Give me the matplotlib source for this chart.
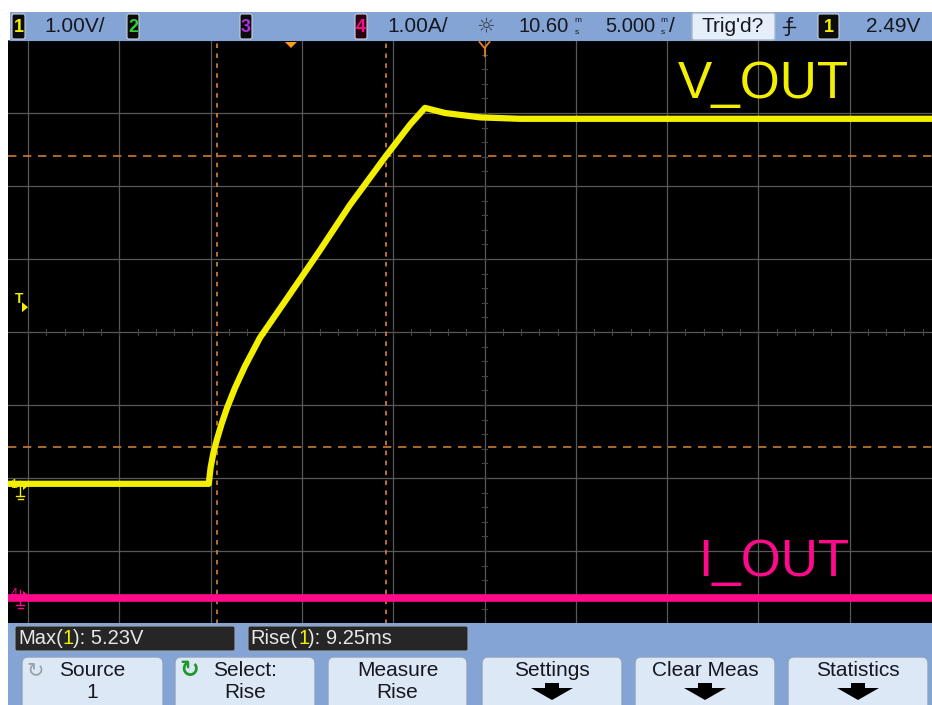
import matplotlib
matplotlib.use('Agg')
import matplotlib.pyplot as plt
from matplotlib.patches import FancyBboxPatch, Rectangle, Polygon

W, H = 932, 705

# ---------------- data ----------------
vout_t_ms = [-15.5, -4.50, -4.40, -4.25, -4.05, -3.80, -3.50, -3.07, -2.52, -1.70, -0.05,
             1.59, 3.23, 5.20, 6.52, 7.34, 8.43, 10.35, 12.54, 35.2]
vout_v = [0.03, 0.03, 0.25, 0.45, 0.64, 0.85, 1.07, 1.34, 1.64, 2.03, 2.63,
          3.23, 3.85, 4.52, 4.95, 5.18, 5.11, 5.05, 5.03, 5.03]
iout_t_ms = [-15.5, 35.2]
iout_a = [-0.04, -0.04]
cursor_t_ms = [-4.05, 5.20]
cursor_v = [0.53, 4.52]
trigger_level_v = 2.49

ch1_scale = "1.00V/"
ch4_scale = "1.00A/"
delay_label = "10.60"
timebase_label = "5.000"
trig_label = "2.49V"
meas_max = ["Max(", "1", "): 5.23V"]
meas_rise = ["Rise(", "1", "): 9.25ms"]
buttons = [("Source", "1"), ("Select:", "Rise"), ("Measure", "Rise"),
           ("Settings", None), ("Clear Meas", None), ("Statistics", None)]

# ---------------- scope geometry ----------------
MS_PER_DIV = 5.0
DELAY_MS = 10.6
PX_PER_XDIV = 91.3
PX_PER_YDIV = 73.0
CENTER_PX_X = 484.5
CENTER_PX_Y = 332.0
CH1_GND_PX = 486.0
CH4_GND_PX = 595.0
SCR_L, SCR_R, SCR_T, SCR_B = 8, 932, 40, 624

ch1_center_v = (CH1_GND_PX - CENTER_PX_Y) / PX_PER_YDIV
ch4_offset = (CH1_GND_PX - CH4_GND_PX) / PX_PER_YDIV

def px_to_t(px):
    return DELAY_MS + (px - CENTER_PX_X) / PX_PER_XDIV * MS_PER_DIV

NARROW = ['Liberation Sans Narrow', 'Liberation Sans', 'DejaVu Sans']
SANS = ['Liberation Sans', 'DejaVu Sans']

YEL = '#f2f000'
MAG = '#ff0a8c'
ORG = '#c97a35'
GRID = '#585858'
BLUE = '#84a4d6'
BTN = '#dde8f6'
TXT = '#16181f'

fig = plt.figure(figsize=(W / 100, H / 100), dpi=100, facecolor='white')

# ---------------- screen ----------------
ax = fig.add_axes([SCR_L / W, 1 - SCR_B / H, (SCR_R - SCR_L) / W, (SCR_B - SCR_T) / H])
ax.set_facecolor('black')
ax.set_xlim(px_to_t(SCR_L), px_to_t(SCR_R))
ax.set_ylim(ch1_center_v - 4, ch1_center_v + 4)
ax.set_xticks([]); ax.set_yticks([])
for s in ax.spines.values():
    s.set_visible(False)

for k in range(-5, 6):
    ax.axvline(DELAY_MS + k * MS_PER_DIV, color=GRID, lw=0.9, zorder=1)
for k in range(-4, 5):
    ax.axhline(ch1_center_v + k, color=GRID, lw=0.9, zorder=1)
# small ticks along centre lines
for k in range(-25, 26):
    t = DELAY_MS + k * MS_PER_DIV / 5
    ax.plot([t, t], [ch1_center_v - 0.035, ch1_center_v + 0.035], color='#444444', lw=0.8, zorder=1)
for k in range(-20, 21):
    v = ch1_center_v + k / 5
    dt = 0.035 * MS_PER_DIV * PX_PER_YDIV / PX_PER_XDIV
    ax.plot([DELAY_MS - dt, DELAY_MS + dt], [v, v], color='#444444', lw=0.8, zorder=1)

# cursors
for t in cursor_t_ms:
    ax.axvline(t, color=ORG, lw=1.3, ls=(0, (2.5, 3)), zorder=2)
for v in cursor_v:
    ax.axhline(v, color=ORG, lw=1.2, ls=(0, (5, 4)), zorder=2)

# traces
ax.plot(iout_t_ms, [a + ch4_offset for a in iout_a], color=MAG, lw=5.5,
        solid_capstyle='butt', zorder=3)
ax.plot(vout_t_ms, vout_v, color=YEL, lw=4.5, solid_joinstyle='round',
        solid_capstyle='butt', zorder=4)

# ---------------- UI overlay ----------------
ui = fig.add_axes([0, 0, 1, 1], zorder=5)
ui.set_xlim(0, W); ui.set_ylim(H, 0)
ui.axis('off')

def rbox(x0, y0, x1, y1, fc, ec='none', r=4, lw=1.0, z=1):
    ui.add_patch(FancyBboxPatch((x0, y0), x1 - x0, y1 - y0,
                                boxstyle=f"round,pad=0,rounding_size={r}",
                                fc=fc, ec=ec, lw=lw, zorder=z))

# top bar
ui.add_patch(Rectangle((10, 12), W - 10, 29, fc=BLUE, ec='none', zorder=1))
def chbox(x0, x1, digit, col, fc='#0c0c0c'):
    rbox(x0, 14, x1, 39, fc=fc, ec='#c8d0dc', r=2, lw=0.8, z=2)
    ui.text((x0 + x1) / 2, 27, digit, color=col, fontsize=13, family=NARROW,
            ha='center', va='center', zorder=3, fontweight='bold')
chbox(12, 25, "1", YEL)
chbox(127, 139, "2", '#33cc33')
chbox(240, 252, "3", '#b030e0')
chbox(355, 367, "4", MAG, fc='#2a0010')
FS_TOP = 15
ui.text(44, 27, ch1_scale, color=TXT, fontsize=FS_TOP, family=NARROW, ha='left', va='center', zorder=3)
ui.text(387, 27, ch4_scale, color=TXT, fontsize=FS_TOP, family=NARROW, ha='left', va='center', zorder=3)
ui.text(486, 26, "☼", color='#3a3f4a', fontsize=15, family=['DejaVu Sans'], ha='center', va='center', zorder=3)
ui.text(518, 27, delay_label, color=TXT, fontsize=14.5, family=NARROW, ha='left', va='center', zorder=3)
ui.text(574, 21, "m", color=TXT, fontsize=6, family=NARROW, ha='left', va='center', zorder=3)
ui.text(575, 32, "s", color=TXT, fontsize=6, family=NARROW, ha='left', va='center', zorder=3)
ui.text(605, 27, timebase_label, color=TXT, fontsize=14.5, family=NARROW, ha='left', va='center', zorder=3)
ui.text(660, 21, "m", color=TXT, fontsize=6, family=NARROW, ha='left', va='center', zorder=3)
ui.text(661, 32, "s", color=TXT, fontsize=6, family=NARROW, ha='left', va='center', zorder=3)
ui.text(669, 27, "/", color=TXT, fontsize=FS_TOP, family=NARROW, ha='left', va='center', zorder=3)
rbox(692, 13, 775, 40, fc='#e6eff9', ec='#a8b8cc', r=2, z=2)
ui.text(733, 26, "Trig'd?", color=TXT, fontsize=FS_TOP, family=NARROW, ha='center', va='center', zorder=3)
ui.text(789, 27, "ƒ", color=TXT, fontsize=14, family=['DejaVu Sans'], ha='center', va='center', zorder=3)
ui.plot([783, 795], [27, 27], color=TXT, lw=1.0, zorder=3)
chbox(818, 839, "1", YEL)
ui.text(866, 27, trig_label, color=TXT, fontsize=FS_TOP, family=NARROW, ha='left', va='center', zorder=3)

# top markers (trigger position and delay reference)
t_trig_px = CENTER_PX_X - DELAY_MS / MS_PER_DIV * PX_PER_XDIV
ui.add_patch(Polygon([[t_trig_px - 6, 42], [t_trig_px + 6, 42], [t_trig_px, 48]],
                     closed=True, fc='#ff9a1a', ec='none', zorder=3))
ui.plot([CENTER_PX_X - 5, CENTER_PX_X, CENTER_PX_X + 5], [42, 48, 42], color='#e08020', lw=1.3, zorder=3)
ui.plot([CENTER_PX_X, CENTER_PX_X], [48, 56], color='#e08020', lw=1.3, zorder=3)

# left channel markers
trig_px = CH1_GND_PX - trigger_level_v * PX_PER_YDIV
ui.text(19, trig_px - 5, "T", color=YEL, fontsize=10, family=SANS, ha='center', va='center', zorder=3, fontweight='bold')
ui.add_patch(Polygon([[22, trig_px - 2], [22, trig_px + 8], [28, trig_px + 3]], closed=True, fc=YEL, ec='none', zorder=3))

def gnd_marker(ypx, digit, col):
    ui.text(14, ypx - 1, digit, color=col, fontsize=9, family=SANS, ha='center', va='center', zorder=3)
    ui.add_patch(Polygon([[23, ypx - 4], [23, ypx + 4], [28, ypx]], closed=True, fc=col, ec='none', zorder=3))
    ui.plot([20, 20], [ypx - 5, ypx + 10], color=col, lw=1.0, zorder=3)
    ui.plot([16, 24], [ypx + 10, ypx + 10], color=col, lw=1.0, zorder=3)
    ui.plot([17.5, 22.5], [ypx + 12.5, ypx + 12.5], color=col, lw=1.0, zorder=3)
gnd_marker(CH1_GND_PX, "1", YEL)
gnd_marker(CH4_GND_PX, "4", MAG)

# trace labels
ui.text(678, 84, "V_OUT", color=YEL, fontsize=37, family=SANS, ha='left', va='center', zorder=3)
ui.text(698, 563, "I_OUT", color=MAG, fontsize=37, family=SANS, ha='left', va='center', zorder=3)

# bottom area
ui.add_patch(Rectangle((8, 623), W - 8, H - 623, fc=BLUE, ec='none', zorder=1))
rbox(15, 626, 235, 651, fc='#262626', ec='#9aa6b8', r=2, lw=0.8, z=2)
rbox(248, 626, 468, 651, fc='#262626', ec='#9aa6b8', r=2, lw=0.8, z=2)
def meas(xs, parts):
    for x, p, c in zip(xs, parts, ['#e8e8e8', YEL, '#e8e8e8']):
        ui.text(x, 638.5, p, color=c, fontsize=14.5, family=NARROW, ha='left', va='center', zorder=3)
meas([18, 63, 73], meas_max)
meas([250, 298, 308], meas_rise)

btn_x = [(22, 163), (175, 315), (328, 467), (482, 622), (635, 775), (788, 928)]
for (x0, x1), (l1, l2) in zip(btn_x, buttons):
    rbox(x0, 657, x1, 712, fc=BTN, ec='#8ea2bf', r=6, lw=1.0, z=2)
    cx = (x0 + x1) / 2
    ui.text(cx, 670, l1, color=TXT, fontsize=15, family=NARROW, ha='center', va='center', zorder=3)
    if l2 is not None:
        ui.text(cx, 692, l2, color=TXT, fontsize=15, family=NARROW, ha='center', va='center', zorder=3)
    else:
        ui.add_patch(Polygon([[cx - 7, 683], [cx + 7, 683], [cx + 7, 688], [cx + 21, 688],
                              [cx, 700], [cx - 21, 688], [cx - 7, 688]],
                             closed=True, fc='black', ec='none', zorder=3))
ui.text(35, 670, "↻", color='#9aa2a8', fontsize=15, family=['DejaVu Sans'], ha='center', va='center', zorder=3)
ui.text(189, 670, "↻", color='#1f9a2a', fontsize=17, family=['DejaVu Sans'], ha='center', va='center', zorder=3, fontweight='bold')

fig.savefig('out.png', dpi=100, facecolor='white')
